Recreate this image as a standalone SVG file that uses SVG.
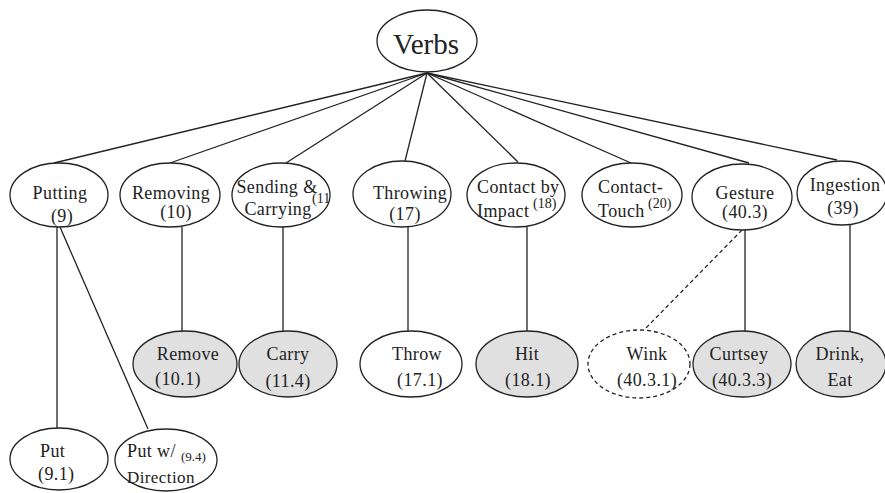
<svg xmlns="http://www.w3.org/2000/svg" width="885" height="493" viewBox="0 0 885 493">
<style>
  .n { fill: #ffffff; stroke: #222; stroke-width: 1.3; }
  .g { fill: #e0e0e0; stroke: #222; stroke-width: 1.3; }
  .d { fill: #ffffff; stroke: #222; stroke-width: 1.3; stroke-dasharray: 4 3; }
  .t { font-family: "Liberation Serif", "Times New Roman", serif; font-size: 18px; letter-spacing: 0.4px; fill: #222; text-anchor: middle; }
  .s { font-family: "Liberation Serif", "Times New Roman", serif; font-size: 14px; fill: #222; }
  .c line { stroke: #222; stroke-width: 1.3; }
</style>
<defs>
  <clipPath id="clipSend"><ellipse cx="281" cy="195" rx="49" ry="32"/></clipPath>
</defs>
<rect width="885" height="493" fill="#ffffff"/>
<g id="connectors" class="c">
  <line x1="427" y1="73" x2="54" y2="163"/>
  <line x1="427" y1="73" x2="170" y2="163"/>
  <line x1="427" y1="73" x2="286" y2="163"/>
  <line x1="427" y1="73" x2="405" y2="161"/>
  <line x1="427" y1="73" x2="518" y2="162"/>
  <line x1="427" y1="73" x2="631" y2="163"/>
  <line x1="427" y1="73" x2="749" y2="163"/>
  <line x1="427" y1="73" x2="837" y2="160"/>
  <line x1="57" y1="227" x2="57" y2="428"/>
  <line x1="60" y1="227" x2="148" y2="429"/>
  <line x1="182" y1="227" x2="182" y2="332"/>
  <line x1="283" y1="227" x2="283" y2="332"/>
  <line x1="408" y1="226" x2="408" y2="331"/>
  <line x1="527" y1="227" x2="527" y2="331"/>
  <line x1="745" y1="229" x2="745" y2="331"/>
  <line x1="850" y1="225" x2="850" y2="331"/>
  <line x1="742" y1="230" x2="643" y2="331" stroke-dasharray="4 3"/>
</g>
<g id="verbs">
  <ellipse class="n" cx="427" cy="41" rx="50" ry="31"/>
  <text class="t" x="426" y="54" style="font-size:29px;letter-spacing:0">Verbs</text>
</g>
<g id="putting">
  <ellipse class="n" cx="59" cy="195" rx="49" ry="32"/>
  <text class="t" x="60" y="199">Putting</text>
  <text class="t" x="62" y="222">(9)</text>
</g>
<g id="removing">
  <ellipse class="n" cx="170" cy="195" rx="50" ry="32"/>
  <text class="t" x="171" y="199">Removing</text>
  <text class="t" x="176" y="218">(10)</text>
</g>
<g id="sending">
  <ellipse class="n" cx="281" cy="195" rx="49" ry="32"/>
  <g clip-path="url(#clipSend)">
    <text class="t" x="277" y="193">Sending &amp;</text>
    <text class="t" x="278" y="215">Carrying</text>
    <text class="s" x="312" y="203">(11)</text>
  </g>
</g>
<g id="throwing">
  <ellipse class="n" cx="402" cy="194" rx="49" ry="33"/>
  <text class="t" x="410" y="199">Throwing</text>
  <text class="t" x="405" y="220">(17)</text>
</g>
<g id="contact-impact">
  <ellipse class="n" cx="516" cy="195" rx="49" ry="32"/>
  <text class="t" x="477" y="193" style="text-anchor:start">Contact by</text>
  <text class="t" x="477" y="217" style="text-anchor:start">Impact</text>
  <text class="s" x="533" y="208">(18)</text>
</g>
<g id="contact-touch">
  <ellipse class="n" cx="632" cy="195" rx="50" ry="32"/>
  <text class="t" x="598" y="193" style="text-anchor:start">Contact-</text>
  <text class="t" x="598" y="217" style="text-anchor:start">Touch</text>
  <text class="s" x="648" y="208">(20)</text>
</g>
<g id="gesture">
  <ellipse class="n" cx="742" cy="197" rx="50" ry="33"/>
  <text class="t" x="745" y="199">Gesture</text>
  <text class="t" x="745" y="218">(40.3)</text>
</g>
<g id="ingestion">
  <ellipse class="n" cx="842" cy="193" rx="45" ry="32"/>
  <text class="t" x="845" y="191">Ingestion</text>
  <text class="t" x="843" y="214">(39)</text>
</g>
<g id="remove">
  <ellipse class="g" cx="185" cy="364" rx="52" ry="33"/>
  <text class="t" x="188" y="360">Remove</text>
  <text class="t" x="178" y="385">(10.1)</text>
</g>
<g id="carry">
  <ellipse class="g" cx="288" cy="364" rx="49" ry="33"/>
  <text class="t" x="288" y="360">Carry</text>
  <text class="t" x="288" y="387">(11.4)</text>
</g>
<g id="throw">
  <ellipse class="n" cx="411" cy="364" rx="51" ry="33"/>
  <text class="t" x="417" y="360">Throw</text>
  <text class="t" x="420" y="386">(17.1)</text>
</g>
<g id="hit">
  <ellipse class="g" cx="527" cy="364" rx="51" ry="33"/>
  <text class="t" x="527" y="360">Hit</text>
  <text class="t" x="528" y="386">(18.1)</text>
</g>
<g id="wink">
  <ellipse class="d" cx="639" cy="364" rx="51" ry="34"/>
  <text class="t" x="647" y="360">Wink</text>
  <text class="t" x="647" y="386">(40.3.1)</text>
</g>
<g id="curtsey">
  <ellipse class="g" cx="742" cy="364" rx="49" ry="33"/>
  <text class="t" x="739" y="360">Curtsey</text>
  <text class="t" x="742" y="386">(40.3.3)</text>
</g>
<g id="drink-eat">
  <ellipse class="g" cx="841" cy="364" rx="45" ry="33"/>
  <text class="t" x="840" y="360">Drink,</text>
  <text class="t" x="840" y="386">Eat</text>
</g>
<g id="put">
  <ellipse class="n" cx="59" cy="459" rx="49" ry="31"/>
  <text class="t" x="40" y="457" style="text-anchor:start">Put</text>
  <text class="t" x="38" y="480" style="text-anchor:start">(9.1)</text>
</g>
<g id="put-direction">
  <ellipse class="n" cx="166" cy="460" rx="51" ry="31"/>
  <text class="t" x="127" y="457" style="text-anchor:start">Put w/</text>
  <text class="s" x="181" y="461" style="font-size:13px">(9.4)</text>
  <text class="t" x="127" y="483" style="text-anchor:start;font-size:17px">Direction</text>
</g>
</svg>
